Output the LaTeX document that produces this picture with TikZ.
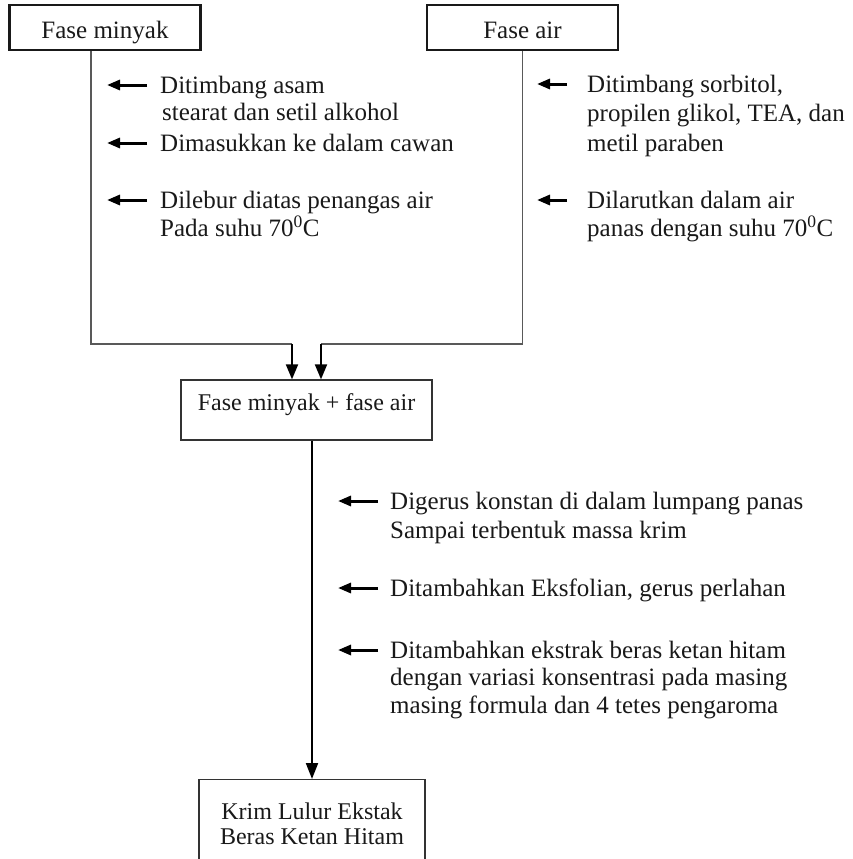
\documentclass[tikz,border=0pt]{standalone}
\usepackage{fontspec}
\setmainfont{Liberation Serif}
\usetikzlibrary{arrows.meta}
% invisible strut that fixes the first baseline of a note
\newcommand{\lead}{\rule{0pt}{18pt}}
\tikzset{
  boxtext/.style={font=\fontsize{24}{25}\selectfont, text=black!90},
  notetext/.style={font=\fontsize{25}{#1}\selectfont, text=black!90, anchor=north west, align=left, inner sep=0pt},
  notetext/.default=28,
  phasebox/.style={draw=black!90, line width=2.5pt, inner sep=0pt, minimum width=191pt, minimum height=45pt,
    font=\fontsize{25}{26}\selectfont, text=black!90, text height=22pt, text depth=0pt},
  stagebox/.style={draw=black!80, line width=1.3pt, inner sep=0pt, boxtext},
  feed/.style={draw=black!65, line width=1.2pt},
  pour/.style={draw=black, line width=2pt, -{Triangle[length=15pt,width=12pt]}},
  addarrow/.style={draw=black, line width=3pt, -{Triangle[length=13pt,width=10pt]}},
}
\begin{document}
\begin{tikzpicture}[x=1pt,y=-1pt]
\useasboundingbox (0,0) rectangle (852,859);
\clip (0,0) rectangle (852,859);

% the two phases
\node[phasebox] (minyak) at (105,27.5) {Fase minyak};
\node[phasebox] (air) at (522.5,27.5) {Fase air};

% mixing stage and product
\node[stagebox, minimum width=251pt, minimum height=60pt, text height=17pt, text depth=17pt] (mix) at (306.5,410) {Fase minyak + fase air};
\node[stagebox, minimum width=226pt, minimum height=88pt, align=center, anchor=north] (final) at (312,779) {Krim Lulur Ekstak\\Beras Ketan Hitam};

% treatment notes of the oil phase
\node[notetext=27] (m1) at (160,75) {\lead Ditimbang asam\\\hspace{2pt}stearat dan setil alkohol};
\node[notetext] (m2) at (160,133) {\lead Dimasukkan ke dalam cawan};
\node[notetext] (m3) at (160,190) {\lead Dilebur diatas penangas air\\Pada suhu 70\textsuperscript{0}C};

% treatment notes of the water phase
\node[notetext=29.5] (a1) at (587,74) {\lead Ditimbang sorbitol,\\propilen glikol, TEA, dan\\metil paraben};
\node[notetext] (a2) at (587,190) {\lead Dilarutkan dalam air\\panas dengan suhu 70\textsuperscript{0}C};

% processing notes of the mixture
\node[notetext=29] (p1) at (390,491) {\lead Digerus konstan di dalam lumpang panas\\Sampai terbentuk massa krim};
\node[notetext] (p2) at (390,578) {\lead Ditambahkan Eksfolian, gerus perlahan};
\node[notetext=27.5] (p3) at (390,640) {\lead Ditambahkan ekstrak beras ketan hitam\\dengan variasi konsentrasi pada masing\\masing formula dan 4 tetes pengaroma};

% joining the phases
\coordinate (jl) at (292,344);
\coordinate (jr) at (321,344);
\draw[feed] ([xshift=-14pt]minyak.south) |- (jl);
\draw[feed] (air.south) |- (jr);
\draw[pour] (jl) -- (jl |- mix.north);
\draw[pour] (jr) -- (jr |- mix.north);

% mixture to product
\draw[pour, -{Triangle[length=16pt,width=12pt]}] (final.north |- mix.south) -- (final.north);

% side arrows
\foreach \n in {m1,m2,m3}
  \draw[addarrow] ([xshift=-13pt,yshift=-10pt]\n.north west) -- +(-40pt,0);
\foreach \n in {a1,a2}
  \draw[addarrow] ([xshift=-20pt,yshift=-10pt]\n.north west) -- +(-30pt,0);
\foreach \n in {p1,p2,p3}
  \draw[addarrow] ([xshift=-12pt,yshift=-10pt]\n.north west) -- +(-40pt,0);
\end{tikzpicture}
\end{document}
